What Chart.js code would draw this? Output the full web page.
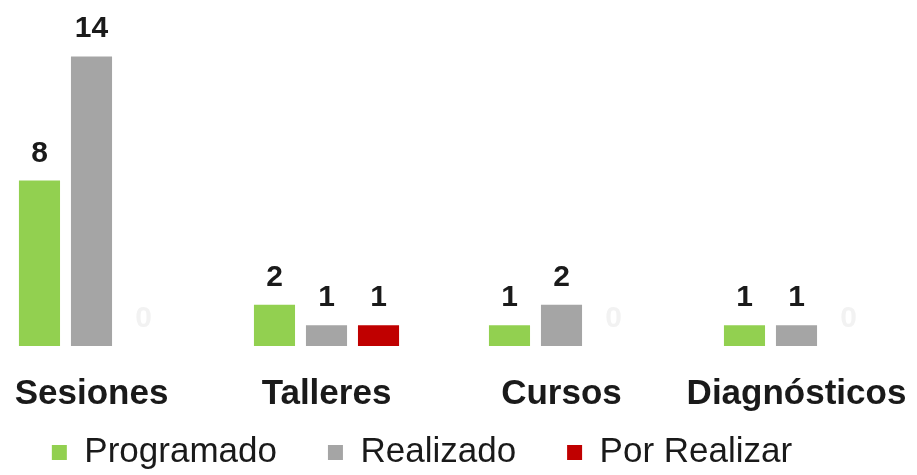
<!DOCTYPE html>
<html lang="es">
<head>
<meta charset="utf-8">
<title>Actividades</title>
<script src="https://cdn.jsdelivr.net/npm/chart.js@4.4.0/dist/chart.umd.min.js"></script>
<style>
  html, body { margin: 0; padding: 0; background: #ffffff; overflow: hidden; }
  #marco { position: relative; width: 917px; height: 475px; overflow: hidden; }
  /* el lienzo es algo más grande que la ventana: el original viene recortado */
  #grafico { position: absolute; left: -26px; top: 0; }
</style>
</head>
<body>
<div id="marco"><canvas id="grafico" width="943" height="538"></canvas></div>
<script>
// Datos del gráfico
const categorias = ['Sesiones', 'Talleres', 'Cursos', 'Diagnósticos'];
const nombresSeries = ['Programado', 'Realizado', 'Por Realizar'];
const programado = [8, 2, 1, 1];
const realizado = [14, 1, 2, 1];
const porRealizar = [0, 1, 0, 0];
const ejeYMaximo = 16;

const colores = ['#92D050', '#A5A5A5', '#C00000'];
const fuente = '"Liberation Sans", Arial, sans-serif';

document.addEventListener('DOMContentLoaded', () => {
  // Etiquetas con el valor encima de cada barra
  const etiquetasValores = {
    id: 'etiquetasValores',
    afterDatasetsDraw(chart) {
      const ctx = chart.ctx;
      ctx.save();
      ctx.font = 'bold 30px ' + fuente;
      ctx.textAlign = 'center';
      ctx.textBaseline = 'alphabetic';
      chart.data.datasets.forEach((ds, i) => {
        const meta = chart.getDatasetMeta(i);
        meta.data.forEach((barra, j) => {
          const valor = ds.data[j];
          // los ceros casi no se ven en el original
          ctx.fillStyle = valor === 0 ? '#f2f2f2' : '#1a1a1a';
          ctx.fillText(String(valor), barra.x, barra.y - 19);
        });
      });
      ctx.restore();
    }
  };

  // Colocar la leyenda: un poco a la izquierda y más arriba
  const moverLeyenda = {
    id: 'moverLeyenda',
    afterLayout(chart) {
      const leyenda = chart.legend;
      if (!leyenda) return;
      const alto = leyenda.bottom - leyenda.top;
      leyenda.left -= 22;
      leyenda.right -= 22;
      leyenda.top = 384;
      leyenda.bottom = 384 + alto;
    }
  };

  const series = [programado, realizado, porRealizar];

  new Chart(document.getElementById('grafico'), {
    type: 'bar',
    data: {
      labels: categorias,
      datasets: series.map((valores, i) => ({
        label: nombresSeries[i],
        data: valores,
        backgroundColor: colores[i],
        borderWidth: 0,
        categoryPercentage: 0.664,
        barPercentage: 0.79
      }))
    },
    options: {
      responsive: false,
      animation: false,
      layout: {
        padding: { left: 0, right: 3, top: 15, bottom: 0 }
      },
      scales: {
        x: {
          grid: { display: false, drawTicks: false },
          border: { display: false },
          ticks: {
            color: '#1a1a1a',
            padding: 27,
            font: { family: fuente, size: 35, weight: 'bold' }
          },
          // sin margen lateral extra por las etiquetas
          afterFit(scale) {
            scale.paddingLeft = 0;
            scale.paddingRight = 0;
          }
        },
        y: {
          display: false,
          min: 0,
          max: ejeYMaximo
        }
      },
      plugins: {
        legend: {
          position: 'bottom',
          labels: {
            boxWidth: 15,
            boxHeight: 15,
            padding: 51,
            color: '#1a1a1a',
            font: { family: fuente, size: 35 }
          }
        },
        tooltip: { enabled: false }
      }
    },
    plugins: [etiquetasValores, moverLeyenda]
  });
});
</script>
</body>
</html>
